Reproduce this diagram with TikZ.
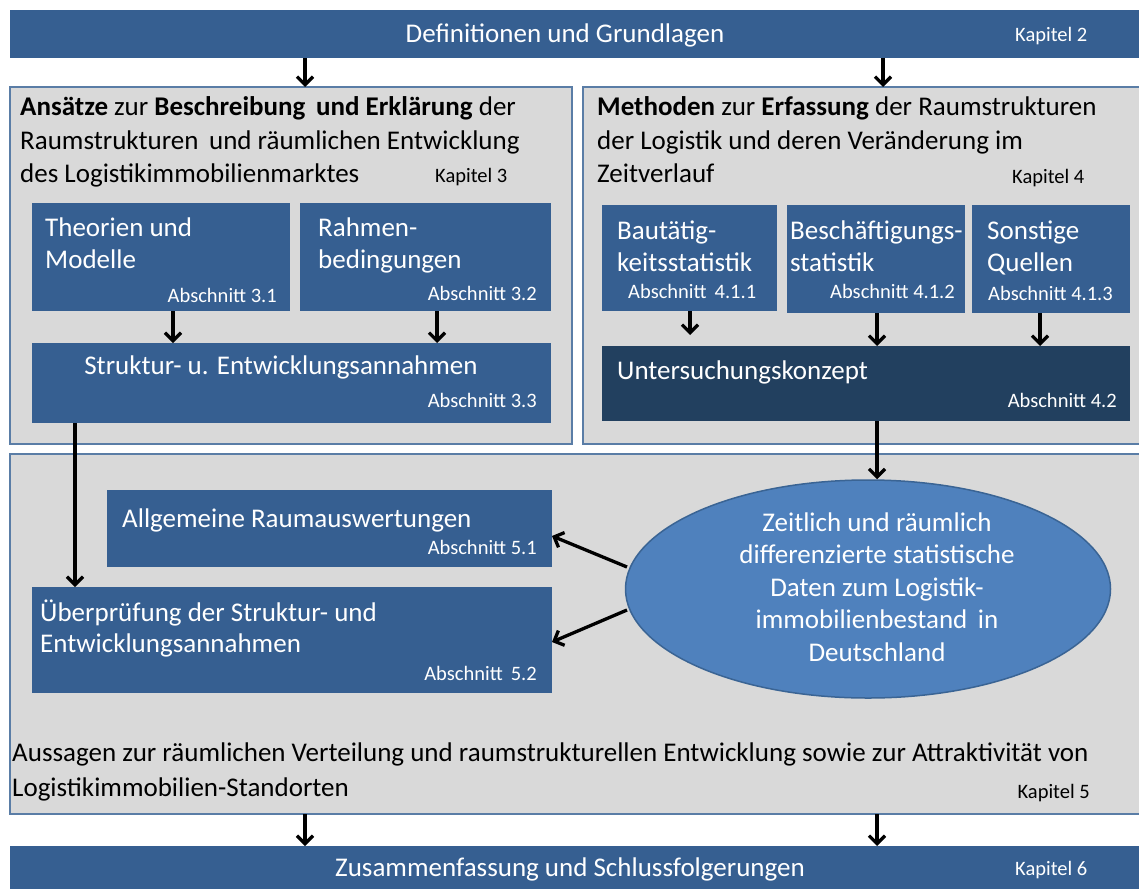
\documentclass[tikz,border=0pt]{standalone}
\usepackage{fontspec}
\setmainfont{Carlito}
\usetikzlibrary{arrows.meta,shapes.geometric,calc}
\definecolor{barblue}{HTML}{365F91}
\definecolor{darkblue}{HTML}{22405F}
\definecolor{ellblue}{HTML}{4F81BD}
\definecolor{ellborder}{HTML}{3A6494}
\definecolor{panelgray}{HTML}{D9D9D9}
\definecolor{panelborder}{HTML}{5A7DA6}
\newcommand{\mybox}[6]{%
  \pgfmathsetmacro{\bw}{#4-#2}\pgfmathsetmacro{\bh}{#5-#3}%
  \node[#6, anchor=north west, minimum width=\bw pt, minimum height=\bh pt] (#1) at (#2,#3) {};}
\newcommand{\fbig}{\fontsize{27}{32}\selectfont}
\newcommand{\fsmall}{\fontsize{20.5}{24}\selectfont}
\tikzset{
  panel/.style={rectangle, fill=panelgray, draw=panelborder, line width=1.2pt, inner sep=0pt, outer sep=0pt},
  bluebox/.style={rectangle, fill=barblue, draw=none, inner sep=0pt, outer sep=0pt},
  darkbox/.style={rectangle, fill=darkblue, draw=none, inner sep=0pt, outer sep=0pt},
  wtxt/.style={text=white, inner sep=0pt, font=\fbig},
  wsml/.style={text=white, inner sep=0pt, font=\fsmall},
  btxt/.style={text=black, inner sep=0pt, font=\fbig},
  bsml/.style={text=black, inner sep=0pt, font=\fsmall},
  arr/.style={line width=3.3pt, -{Straight Barb[length=8pt,width=16pt]}},
}
\begin{document}
\begin{tikzpicture}[x=1pt,y=-1pt]
\clip (0,0) rectangle (1139,888);
\fill[white] (0,0) rectangle (1139,888);
% top bar
\mybox{topbar}{10}{10}{1145}{58}{bluebox}
\node[wtxt, anchor=base] (t2) at (565,43) {Definitionen und Grundlagen};
\node[wsml, anchor=base west] (k2) at (1015,42) {Kapitel 2};
% panels
\mybox{lbox}{10}{87}{572}{444}{panel}
\mybox{rbox}{583}{87}{1145}{444}{panel}
\mybox{bbox}{10}{454}{1145}{814}{panel}
% left panel title
\node[btxt, anchor=base west] (lt1) at (20,116) {\textbf{Ansätze} zur \textbf{Beschreibung}\, \textbf{und Erklärung} der};
\node[btxt, anchor=base west] (lt2) at (20,149) {Raumstrukturen\, und räumlichen Entwicklung};
\node[btxt, anchor=base west] (lt3) at (20,182) {des Logistikimmobilienmarktes};
\node[bsml, anchor=base west] (k3) at (435,182) {Kapitel 3};
% right panel title
\node[btxt, anchor=base west] (rt1) at (597,116) {\textbf{Methoden} zur \textbf{Erfassung} der Raumstrukturen};
\node[btxt, anchor=base west] (rt2) at (597,149) {der Logistik und deren Veränderung im};
\node[btxt, anchor=base west] (rt3) at (597,182) {Zeitverlauf};
\node[bsml, anchor=base west] (k4) at (1012,183) {Kapitel 4};
% left boxes
\mybox{theo}{32}{203}{290}{311}{bluebox}
\node[wtxt, anchor=base west] at (45,236) {Theorien und};
\node[wtxt, anchor=base west] at (45,268) {Modelle};
\node[wsml, anchor=base east] at (277,302) {Abschnitt 3.1};
\mybox{rahm}{300}{203}{551}{311}{bluebox}
\node[wtxt, anchor=base west] at (318,236) {Rahmen-};
\node[wtxt, anchor=base west] at (318,268) {bedingungen};
\node[wsml, anchor=base east] at (537,300) {Abschnitt 3.2};
\mybox{stru}{32}{343}{551}{423}{bluebox}
\node[wtxt, anchor=base] at (281,374) {Struktur- u. Entwicklungsannahmen};
\node[wsml, anchor=base east] at (537,407) {Abschnitt 3.3};
% right boxes
\mybox{baut}{602}{205}{777}{311}{bluebox}
\node[wtxt, anchor=base west] at (617,239) {Bautätig-};
\node[wtxt, anchor=base west] at (617,271) {keitsstatistik};
\node[wsml, anchor=base west] at (628,298) {Abschnitt\, 4.1.1};
\mybox{besch}{787}{205}{965}{313}{bluebox}
\node[wtxt, anchor=base west] at (790,239) {Beschäftigungs-};
\node[wtxt, anchor=base west] at (790,271) {statistik};
\node[wsml, anchor=base east] at (955,298) {Abschnitt 4.1.2};
\mybox{sonst}{972}{205}{1130}{313}{bluebox}
\node[wtxt, anchor=base west] at (987,239) {Sonstige};
\node[wtxt, anchor=base west] at (987,271) {Quellen};
\node[wsml, anchor=base west] at (988,300) {Abschnitt 4.1.3};
\mybox{unters}{602}{346}{1130}{421}{darkbox}
\node[wtxt, anchor=base west] at (617,379) {Untersuchungskonzept};
\node[wsml, anchor=base east] at (1117,407) {Abschnitt 4.2};
% bottom panel
\mybox{allg}{107}{490}{552}{567}{bluebox}
\node[wtxt, anchor=base west] at (122,527) {Allgemeine Raumauswertungen};
\node[wsml, anchor=base east] at (537,554) {Abschnitt 5.1};
\mybox{ueber}{32}{587}{552}{693}{bluebox}
\node[wtxt, anchor=base west] at (40,621) {Überprüfung der Struktur- und};
\node[wtxt, anchor=base west] at (40,652) {Entwicklungsannahmen};
\node[wsml, anchor=base east] at (537,680) {Abschnitt\, 5.2};
\node[ellipse, fill=ellblue, draw=ellborder, line width=1.5pt, minimum width=485pt, minimum height=218pt, inner sep=0pt] (ell) at (868,589) {};
\node[wtxt, align=center, font=\fontsize{27}{32.5}\selectfont] at (877,587) {Zeitlich und räumlich\\differenzierte statistische\\Daten zum Logistik-\\immobilienbestand\, in\\Deutschland};
\node[btxt, anchor=base west] (s1) at (12,761) {Aussagen zur räumlichen Verteilung und raumstrukturellen Entwicklung sowie zur Attraktivität von};
\node[btxt, anchor=base west] (s2) at (12,796) {Logistikimmobilien-Standorten};
\node[bsml, anchor=base east] (k5) at (1090,798) {Kapitel 5};
% bottom bar
\mybox{botbar}{10}{846}{1145}{900}{bluebox}
\node[wtxt, anchor=base] (z6) at (570,876) {Zusammenfassung und Schlussfolgerungen};
\node[wsml, anchor=base west] (k6) at (1015,875) {Kapitel 6};
% arrow coordinates
\coordinate (xa) at (305,0);
\coordinate (xb) at (883,0);
\coordinate (xc) at (173,0);
\coordinate (xd) at (437,0);
\coordinate (xe) at (877,0);
\coordinate (xf) at (1040,0);
\coordinate (xg) at (75,0);
\coordinate (bautend) at (690,335);
\coordinate (e1) at (627,567);
\coordinate (e2) at (627,610);
\coordinate (a1) at (552,536);
\coordinate (a2) at (554,642);
% arrows
\draw[arr] (topbar.south -| xa) -- (lbox.north -| xa);
\draw[arr] (topbar.south -| xb) -- (rbox.north -| xb);
\draw[arr] (theo.south -| xc) -- (stru.north -| xc);
\draw[arr] (rahm.south -| xd) -- (stru.north -| xd);
\draw[arr] (baut.south -| bautend) -- (bautend);
\draw[arr] (besch.south -| xe) -- (unters.north -| xe);
\draw[arr] (sonst.south -| xf) -- (unters.north -| xf);
\draw[arr] (stru.south -| xg) -- (ueber.north -| xg);
\draw[arr] (unters.south -| xe) -- (ell.north -| xe);
\draw[arr] (e1) -- (a1 -| allg.east);
\draw[arr] (e2) -- (a2 -| ueber.east);
\draw[arr] (bbox.south -| xa) -- (botbar.north -| xa);
\draw[arr] (bbox.south -| xe) -- (botbar.north -| xe);
\end{tikzpicture}
\end{document}
